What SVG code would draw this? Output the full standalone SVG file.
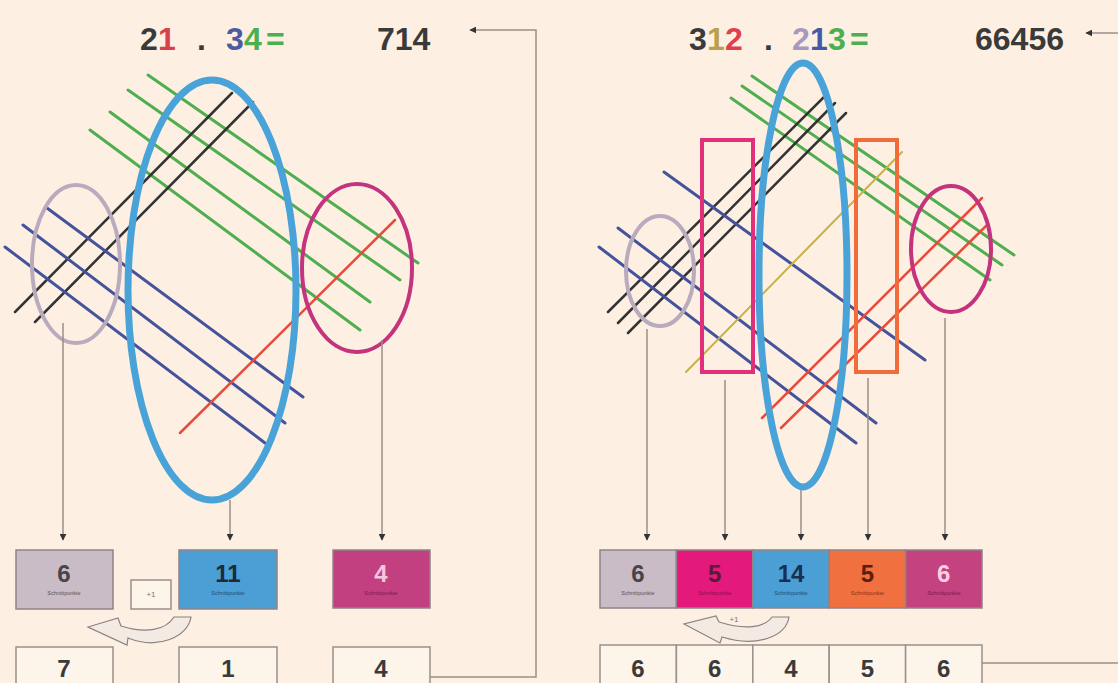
<svg xmlns="http://www.w3.org/2000/svg" width="1118" height="683" viewBox="0 0 1118 683">
<defs>
<marker id="ah" viewBox="0 0 10 10" refX="9" refY="5" markerWidth="7" markerHeight="7" orient="auto" markerUnits="userSpaceOnUse"><path d="M0,0 L10,5 L0,10 Z" fill="#333"/></marker>
<style>
.eq{font-family:"Liberation Sans",Arial,sans-serif;font-weight:bold;font-size:32px;}
.num{font-family:"Liberation Sans",Arial,sans-serif;font-weight:bold;font-size:24px;text-anchor:middle;}
.tiny{font-family:"Liberation Sans",Arial,sans-serif;font-size:5.5px;text-anchor:middle;}
.small{font-family:"Liberation Sans",Arial,sans-serif;font-size:8px;text-anchor:middle;fill:#777;}
.conn{fill:none;stroke:#9a8f8a;stroke-width:1.5;}
.box{stroke:#8f8488;stroke-width:1.5;}
.wbox{fill:#fdf4ea;stroke:#9a8f8a;stroke-width:1.5;}
.g{stroke:#4fae50;stroke-width:3;stroke-linecap:round;}
.k{stroke:#333;stroke-width:2.5;stroke-linecap:round;}
.b{stroke:#45529c;stroke-width:3;stroke-linecap:round;}
.r{stroke:#e84a3c;stroke-width:2.5;stroke-linecap:round;}
.y{stroke:#c8b048;stroke-width:2;stroke-linecap:round;}
.swoosh{fill:#f3ebe3;stroke:#8a8280;stroke-width:1.2;}
</style>
</defs>
<rect width="1118" height="683" fill="#fdf0e2"/>

<g id="equation-left" class="eq">
<text y="50"><tspan x="140" fill="#3a3a3a">2</tspan><tspan x="158" fill="#d9414a">1</tspan><tspan x="197" fill="#3a3a3a">.</tspan><tspan x="226" fill="#4a5ca2">3</tspan><tspan x="244" fill="#4caf50">4</tspan><tspan x="266" fill="#4caf50">=</tspan></text>
<text x="377" y="50" fill="#3a3a3a">714</text>
</g>
<g id="equation-right" class="eq">
<text y="50"><tspan x="689" fill="#3a3a3a">3</tspan><tspan x="707" fill="#b8a050">1</tspan><tspan x="725" fill="#e0404a">2</tspan><tspan x="764" fill="#3a3a3a">.</tspan><tspan x="792" fill="#a898c0">2</tspan><tspan x="810" fill="#4858a8">1</tspan><tspan x="828" fill="#4caf50">3</tspan><tspan x="850" fill="#4caf50">=</tspan></text>
<text x="975" y="50" fill="#3a3a3a">66456</text>
</g>

<g id="lines-left">
<line class="g" x1="148" y1="75" x2="418" y2="263"/>
<line class="g" x1="128" y1="90" x2="400" y2="280"/>
<line class="g" x1="110" y1="112" x2="370" y2="302"/>
<line class="g" x1="90" y1="130" x2="360" y2="330"/>
<line class="k" x1="15" y1="312" x2="232" y2="93"/>
<line class="k" x1="35" y1="322" x2="253" y2="102"/>
<line class="b" x1="47" y1="208" x2="303" y2="397"/>
<line class="b" x1="23" y1="225" x2="285" y2="423"/>
<line class="b" x1="5" y1="247" x2="265" y2="443"/>
<line class="r" x1="180" y1="433" x2="395" y2="220"/>
</g>
<g id="ellipse-lavender-left"><ellipse cx="76" cy="264" rx="44" ry="79" fill="none" stroke="#b9abbd" stroke-width="4"/></g>
<g id="ellipse-blue-left"><ellipse cx="212" cy="290" rx="84" ry="210" fill="none" stroke="#4aa3d8" stroke-width="7"/></g>
<g id="ellipse-magenta-left"><ellipse cx="357" cy="268" rx="55" ry="84" fill="none" stroke="#c4347e" stroke-width="4"/></g>

<g id="lines-right">
<line class="g" x1="752" y1="76" x2="1014" y2="255"/>
<line class="g" x1="742" y1="86" x2="1002" y2="265"/>
<line class="g" x1="731" y1="98" x2="990" y2="280"/>
<line class="k" x1="608" y1="312" x2="824" y2="97"/>
<line class="k" x1="618" y1="323" x2="835" y2="103"/>
<line class="k" x1="628" y1="333" x2="846" y2="113"/>
<line class="b" x1="664" y1="172" x2="925" y2="360"/>
<line class="b" x1="618" y1="228" x2="876" y2="423"/>
<line class="b" x1="599" y1="247" x2="856" y2="443"/>
<line class="y" x1="686" y1="372" x2="902" y2="152"/>
<line class="r" x1="762" y1="418" x2="982" y2="198"/>
<line class="r" x1="781" y1="428" x2="987" y2="225"/>
</g>
<g id="ellipse-lavender-right"><ellipse cx="660" cy="271" rx="34" ry="55" fill="none" stroke="#b9abbd" stroke-width="4"/></g>
<g id="rect-pink-right"><rect x="702" y="140" width="51" height="232" fill="none" stroke="#e0307a" stroke-width="4"/></g>
<g id="ellipse-blue-right"><ellipse cx="803" cy="275" rx="44" ry="212" fill="none" stroke="#4aa3d8" stroke-width="7"/></g>
<g id="rect-orange-right"><rect x="856" y="140" width="41" height="232" fill="none" stroke="#f26b3a" stroke-width="4"/></g>
<g id="ellipse-magenta-right"><ellipse cx="951" cy="249" rx="40" ry="63" fill="none" stroke="#c4347e" stroke-width="4"/></g>

<g id="connectors">
<path class="conn" d="M63,323 V540" marker-end="url(#ah)"/>
<path class="conn" d="M230,500 V540" marker-end="url(#ah)"/>
<path class="conn" d="M382,340 V540" marker-end="url(#ah)"/>
<path class="conn" d="M647,329 V540" marker-end="url(#ah)"/>
<path class="conn" d="M725,380 V540" marker-end="url(#ah)"/>
<path class="conn" d="M801,490 V540" marker-end="url(#ah)"/>
<path class="conn" d="M868,378 V540" marker-end="url(#ah)"/>
<path class="conn" d="M945,318 V540" marker-end="url(#ah)"/>
<path class="conn" d="M430,677 H536 V30 H470" marker-end="url(#ah)"/>
<path class="conn" d="M982,663 H1118"/>
<path class="conn" d="M1118,33 H1086" marker-end="url(#ah)"/>
</g>

<g id="box-6-left"><rect class="box" x="16" y="550" width="97" height="59" fill="#c9bcc6"/><text class="num" x="64" y="582" fill="#4a4448">6</text><text class="tiny" x="64" y="595" fill="#5a5058">Schnittpunkte</text></g>
<g id="box-plus1-left"><rect class="wbox" x="131" y="580" width="40" height="29"/><text class="small" x="151" y="597">+1</text></g>
<g id="box-11-left"><rect class="box" x="179" y="550" width="98" height="59" fill="#4b9fd5"/><text class="num" x="228" y="582" fill="#1e2a3a">11</text><text class="tiny" x="228" y="595" fill="#1f4a70">Schnittpunkte</text></g>
<g id="box-4-left"><rect class="box" x="333" y="550" width="97" height="58" fill="#c2407f"/><text class="num" x="381" y="582" fill="#f6c6dd">4</text><text class="tiny" x="381" y="595" fill="#7a1a48">Schnittpunkte</text></g>
<g id="swoosh-left"><path class="swoosh" d="M191,617 C188,637 158,650 128,638 L127,645 L88,627 L118,618 L121,626 C146,634 166,630 174,617 Z"/></g>
<g id="res-7"><rect class="wbox" x="16" y="647" width="97" height="42"/><text class="num" x="64" y="677" fill="#3a3a3a">7</text></g>
<g id="res-1"><rect class="wbox" x="179" y="647" width="98" height="42"/><text class="num" x="228" y="677" fill="#3a3a3a">1</text></g>
<g id="res-4"><rect class="wbox" x="333" y="647" width="97" height="42"/><text class="num" x="381" y="677" fill="#3a3a3a">4</text></g>

<g id="box-6a-right"><rect class="box" x="600" y="550" width="76.4" height="58" fill="#c9bcc6"/><text class="num" x="638" y="582" fill="#4a4448">6</text><text class="tiny" x="638" y="595" fill="#5a5058">Schnittpunkte</text></g>
<g id="box-5a-right"><rect class="box" x="676.4" y="550" width="76.4" height="58" fill="#e3197c"/><text class="num" x="714.6" y="582" fill="#5a1a3a">5</text><text class="tiny" x="714.6" y="595" fill="#8a1048">Schnittpunkte</text></g>
<g id="box-14-right"><rect class="box" x="752.8" y="550" width="76.4" height="58" fill="#4b9fd5"/><text class="num" x="791" y="582" fill="#1a3050">14</text><text class="tiny" x="791" y="595" fill="#1f4a70">Schnittpunkte</text></g>
<g id="box-5b-right"><rect class="box" x="829.2" y="550" width="76.4" height="58" fill="#f07040"/><text class="num" x="867.4" y="582" fill="#5a2010">5</text><text class="tiny" x="867.4" y="595" fill="#8a3010">Schnittpunkte</text></g>
<g id="box-6b-right"><rect class="box" x="905.6" y="550" width="76.4" height="58" fill="#c3427f"/><text class="num" x="943.8" y="582" fill="#fbd0e4">6</text><text class="tiny" x="943.8" y="595" fill="#7a1a48">Schnittpunkte</text></g>
<g id="swoosh-right"><path class="swoosh" d="M789,617 C786,636 758,648 722,637 L720,643 L684,624 L716,616 L719,622 C745,630 764,628 772,617 Z"/><text class="small" x="734" y="622">+1</text></g>
<g id="res-row-right">
<rect class="wbox" x="600" y="645" width="76.4" height="44"/><text class="num" x="638" y="677" fill="#3a3a3a">6</text>
<rect class="wbox" x="676.4" y="645" width="76.4" height="44"/><text class="num" x="714.6" y="677" fill="#3a3a3a">6</text>
<rect class="wbox" x="752.8" y="645" width="76.4" height="44"/><text class="num" x="791" y="677" fill="#3a3a3a">4</text>
<rect class="wbox" x="829.2" y="645" width="76.4" height="44"/><text class="num" x="867.4" y="677" fill="#3a3a3a">5</text>
<rect class="wbox" x="905.6" y="645" width="76.4" height="44"/><text class="num" x="943.8" y="677" fill="#3a3a3a">6</text>
</g>
</svg>
